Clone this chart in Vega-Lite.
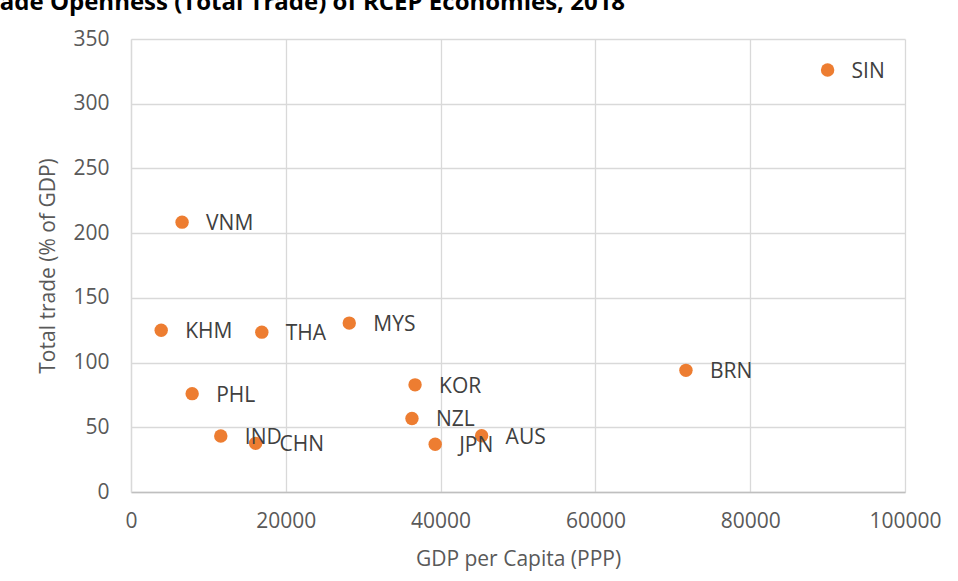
{
  "$schema": "https://vega.github.io/schema/vega-lite/v6.json",
  "width": 774,
  "height": 453,
  "autosize": {"type": "none"},
  "padding": {"left": 131, "top": 39, "right": 53, "bottom": 89},
  "background": "white",
  "title": {
    "text": "Trade Openness (Total Trade) of RCEP Economies, 2018",
    "anchor": "start",
    "frame": "group",
    "font": "Open Sans",
    "fontSize": 24,
    "fontWeight": "bold",
    "color": "#000000",
    "baseline": "alphabetic",
    "offset": 0,
    "dx": -156,
    "dy": 6
  },
  "config": {
    "view": {"stroke": null},
    "font": "Open Sans"
  },
  "data": {
    "values": [
      {"code": "SIN", "gdp": 90000, "trade": 326},
      {"code": "VNM", "gdp": 6600, "trade": 208.5},
      {"code": "KHM", "gdp": 3900, "trade": 125},
      {"code": "THA", "gdp": 16900, "trade": 123.5},
      {"code": "MYS", "gdp": 28200, "trade": 130.5},
      {"code": "PHL", "gdp": 7900, "trade": 76},
      {"code": "IND", "gdp": 11600, "trade": 43.3},
      {"code": "CHN", "gdp": 16100, "trade": 37.6},
      {"code": "KOR", "gdp": 36700, "trade": 82.8},
      {"code": "NZL", "gdp": 36300, "trade": 56.8},
      {"code": "JPN", "gdp": 39300, "trade": 36.9},
      {"code": "AUS", "gdp": 45300, "trade": 43.5},
      {"code": "BRN", "gdp": 71700, "trade": 94}
    ]
  },
  "encoding": {
    "x": {
      "field": "gdp",
      "type": "quantitative",
      "scale": {"domain": [0, 100000], "nice": false, "zero": true},
      "axis": {
        "title": "GDP per Capita (PPP)",
        "values": [0, 20000, 40000, 60000, 80000, 100000],
        "format": "d",
        "grid": true,
        "gridColor": "#d9d9d9",
        "gridWidth": 1.3,
        "domainColor": "#bfbfbf",
        "domainWidth": 1.3,
        "ticks": false,
        "labelFont": "Open Sans",
        "labelFontSize": 21,
        "labelColor": "#595959",
        "labelPadding": 18,
        "labelFlush": false,
        "titleFont": "Open Sans",
        "titleFontSize": 21,
        "titleFontWeight": "normal",
        "titleColor": "#595959",
        "titlePadding": 17
      }
    },
    "y": {
      "field": "trade",
      "type": "quantitative",
      "scale": {"domain": [0, 350], "nice": false},
      "axis": {
        "title": "Total trade (% of GDP)",
        "values": [0, 50, 100, 150, 200, 250, 300, 350],
        "grid": true,
        "gridColor": "#d9d9d9",
        "gridWidth": 1.3,
        "domainColor": "#d9d9d9",
        "domainWidth": 1.3,
        "ticks": false,
        "labelFont": "Open Sans",
        "labelFontSize": 21,
        "labelColor": "#595959",
        "labelPadding": 22,
        "labelFlush": false,
        "titleFont": "Open Sans",
        "titleFontSize": 21,
        "titleFontWeight": "normal",
        "titleColor": "#595959",
        "titlePadding": 14
      }
    }
  },
  "layer": [
    {
      "mark": {"type": "point", "filled": true, "shape": "circle", "size": 180, "opacity": 1, "color": "#ED7D31"}
    },
    {
      "mark": {"type": "text", "align": "left", "baseline": "middle", "dx": 24, "dy": 2, "font": "Open Sans", "fontSize": 21, "color": "#404040"},
      "encoding": {"text": {"field": "code"}}
    }
  ]
}
